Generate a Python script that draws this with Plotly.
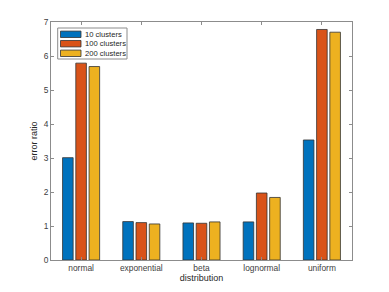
import plotly.graph_objects as go

categories = ["normal", "exponential", "beta", "lognormal", "uniform"]
series_names = ["10 clusters", "100 clusters", "200 clusters"]
vals_10 = [3.01, 1.13, 1.09, 1.12, 3.53]
vals_100 = [5.79, 1.10, 1.08, 1.97, 6.78]
vals_200 = [5.69, 1.06, 1.12, 1.84, 6.70]
colors = ["#0072BD", "#D95319", "#EDB120"]

W, H = 389, 292
ML, MR, MT, MB = 51, 37, 22, 32
PW, PH = W - ML - MR, H - MT - MB

def px(x):
    return (x - ML) / PW

def py(y):
    return 1 - (y - MT) / PH

xpos = list(range(1, len(categories) + 1))
fig = go.Figure()
for name, vals, c in zip(series_names, [vals_10, vals_100, vals_200], colors):
    fig.add_trace(go.Bar(x=xpos, y=vals, name=name, showlegend=False,
                         marker=dict(color=c, line=dict(color="#333333", width=0.8))))

FONT = "Liberation Sans, Arial, sans-serif"
axis_common = dict(showline=True, linecolor="#8c8c8c", linewidth=1, mirror="ticks",
                   ticks="inside", ticklen=3, tickcolor="#8c8c8c", showgrid=False, zeroline=False,
                   automargin=False,
                   tickfont=dict(family=FONT, size=8.4, color="#404040"))

# legend box (drawn manually, MATLAB style)
shapes = [dict(type="rect", xref="paper", yref="paper", x0=px(57.7), x1=px(127), y0=py(59), y1=py(28),
               line=dict(color="#8c8c8c", width=1), fillcolor="white", layer="above")]
annotations = []
centers = [34.3, 43.7, 53.3]
for name, c, cy in zip(series_names, colors, centers):
    shapes.append(dict(type="rect", xref="paper", yref="paper", x0=px(60.5), x1=px(81), y0=py(cy + 3.2), y1=py(cy - 3.2),
                       line=dict(color="#333333", width=0.8), fillcolor=c, layer="above"))
    annotations.append(dict(xref="paper", yref="paper", x=px(82.5), y=py(cy), text=name, showarrow=False,
                            xanchor="left", yanchor="middle", font=dict(family=FONT, size=7.6, color="#262626")))

fig.update_layout(
    width=W, height=H,
    margin=dict(l=ML, r=MR, t=MT, b=MB),
    paper_bgcolor="white", plot_bgcolor="white",
    barmode="group", bargap=0.34, bargroupgap=0.2,
    font=dict(family=FONT, size=8, color="#262626"),
    xaxis=dict(range=[0.5, 5.5], tickvals=xpos, ticktext=categories,
               title=dict(text="distribution", font=dict(size=9, color="#262626"), standoff=2), **axis_common),
    yaxis=dict(range=[0, 7], dtick=1,
               title=dict(text="error ratio", font=dict(size=9, color="#262626"), standoff=4), **axis_common),
    shapes=shapes, annotations=annotations,
    showlegend=False,
)
fig.write_html("out.html", config={"displayModeBar": False},
               post_script="document.body.style.margin='0';")
